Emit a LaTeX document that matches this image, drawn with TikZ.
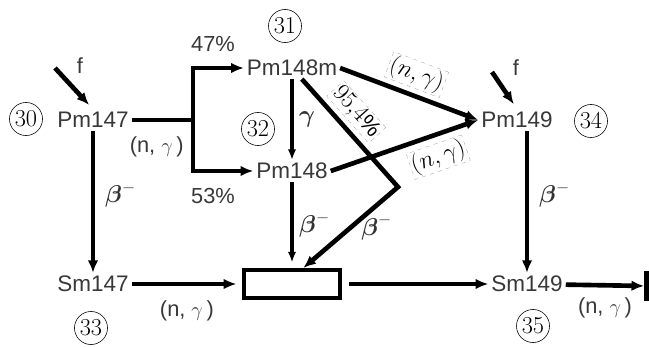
\documentclass[tikz,border=0pt]{standalone}
\usepackage{fontspec}
\usepackage{amsmath}
\setmainfont{Liberation Sans}
\usetikzlibrary{arrows.meta,positioning}

\tikzset{
  nuc/.style={font=\fontsize{16}{18}\selectfont, text=black!78, inner sep=2pt},
  lbl/.style={font=\fontsize{15.5}{17}\selectfont, text=black!78, inner sep=1pt},
  bet/.style={font=\fontsize{18}{18}\selectfont, text=black!80, inner sep=1pt},
  num/.style={circle, draw, thin, inner sep=0pt, minimum size=23.5pt, font=\fontsize{19}{19}\selectfont},
  tag/.style={draw=gray!80, dashed, very thin, inner sep=1pt, font=\fontsize{16}{18}\selectfont},
  arr/.style={-{Latex[length=9pt,width=7.5pt]}, line width=3.3pt},
  tarr/.style={-{Latex[length=7.5pt,width=6pt]}, line width=2.2pt},
}

\begin{document}
\begin{tikzpicture}[x=0.025cm, y=-0.025cm]
\useasboundingbox (0,0) rectangle (649,347);

% nuclides
\node[nuc] (pma) at (93,120) {Pm147};
\node[nuc] (pmm) at (292,68) {Pm148m};
\node[nuc] (pmg) at (292,171) {Pm148};
\node[nuc] (pm9) at (517,120) {Pm149};
\node[nuc] (sma) at (93,284) {Sm147};
\node[nuc] (smb) at (527,284) {Sm149};
\node[draw, line width=2.8pt, minimum width=2.4cm, minimum height=0.7cm] (box) at (292,284) {};
\node[fill=black, inner sep=0pt, minimum width=3.6pt, minimum height=22pt] (bar) at (647,286) {};

% circled numbers
\node[num] (n30) at (26,119) {$30$};
\node[num] (n31) at (285,26) {$31$};
\node[num] (n32) at (258,129) {$32$};
\node[num] (n33) at (91,328) {$33$};
\node[num] (n34) at (591,121) {$34$};
\node[num] (n35) at (533,326) {$35$};

% branching ratios, fission
\node[lbl] (p47) at (213,44) {47\%};
\node[lbl] (p53) at (213,196) {53\%};
\node[lbl] (fl1) at (80,66) {f};
\node[lbl] (fl2) at (516,68) {f};
\coordinate (fs1) at (55,68);
\coordinate (fs2) at (492,72);
\coordinate (br) at (193,120);
\coordinate (knee) at (398,187);

\draw[arr, shorten >=4pt] (fs1) -- (pma.north);
\draw[arr, shorten >=4pt] (fs2) -- (pm9.north);

\draw[line width=3.3pt] (pma) -- node[lbl, below=9pt, xshift=-4pt] (ng1) {(n, $\gamma$\,)} (br);
\draw[arr] (br) |- (pmm.west);
\draw[arr] (br) |- (pmg.west);

\draw[tarr] (pmm) -- node[bet, right=3pt] (ga) {$\boldsymbol\gamma$} (pmg);
\draw[arr] (pmm.east) -- node[tag, sloped, above=5pt, pos=.5] (ng2) {$(n,\gamma)$} (pm9.west);
\draw[arr] (pmg.east) -- node[tag, sloped, below=6pt, pos=.68] (ng3) {$(n,\gamma)$} (pm9.west);
\draw[arr, line join=miter] (pmm) -- node[tag, sloped, above=5pt, pos=.42] (iso) {$95{,}4\%$} (knee)
  -- node[bet, right=5pt] (b3) {$\boldsymbol\beta^-$} ([xshift=8pt]box.north);

\draw[tarr, shorten >=4pt] (pmg) -- node[bet, right=3pt] (b2) {$\boldsymbol\beta^-$} (pmg |- box.north);
\draw[arr] (pma) -- node[bet, right=6pt, pos=.45] (b1) {$\boldsymbol\beta^-$} (sma);
\draw[arr] (pm9.south -| smb) -- node[bet, right=6pt, pos=.45] (b4) {$\boldsymbol\beta^-$} (smb);

\draw[arr, shorten >=4pt] (sma) -- node[lbl, below=9pt] (ng4) {(n, $\gamma$\,)} (box);
\draw[arr, shorten <=5pt] (box) -- (smb);
\draw[arr] (smb) -- node[lbl, below=6pt] (ng5) {(n, $\gamma$\,)} (bar);
\end{tikzpicture}
\end{document}
